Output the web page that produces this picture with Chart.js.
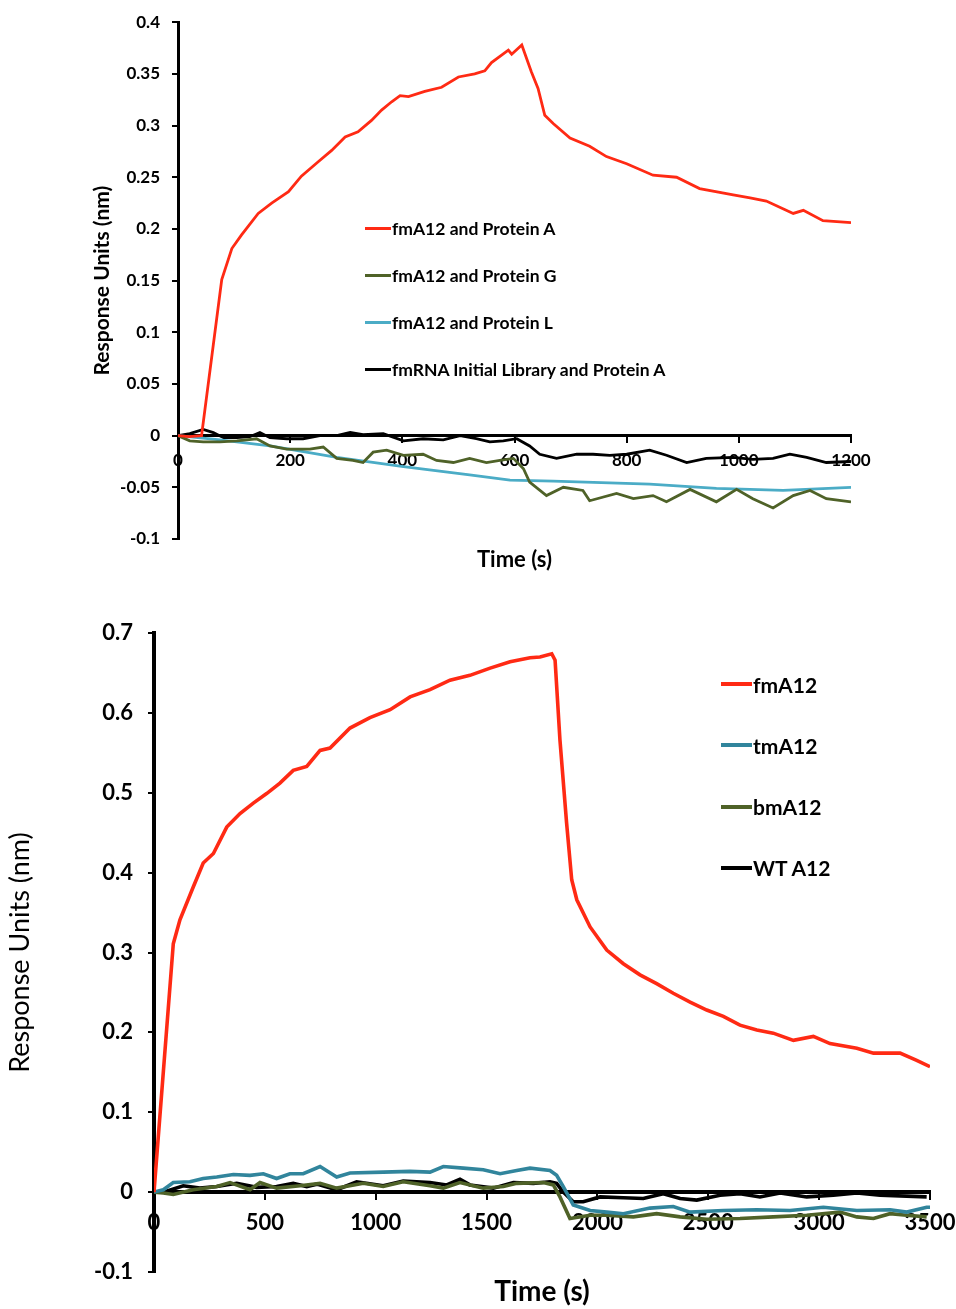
<!DOCTYPE html>
<html>
<head>
<meta charset="utf-8">
<script src="https://cdn.jsdelivr.net/npm/chart.js@4.4.1/dist/chart.umd.min.js"></script>
<style>
    body { margin: 0; background: #fff; width: 956px; height: 1309px; position: relative; overflow: hidden; font-family: Lato, sans-serif; }
    .box { position: absolute; left: 0; width: 956px; }
    #topBox { top: 0; height: 590px; }
    #botBox { top: 590px; height: 719px; }
    .legend { position: absolute; font-weight: bold; color: #000; }
    .legend .row { position: absolute; left: 0; white-space: nowrap; display: flex; align-items: center; }
</style>
</head>
<body>
<div class="box" id="topBox"><canvas id="topChart" width="956" height="590"></canvas></div>
<div class="box" id="botBox"><canvas id="botChart" width="956" height="719"></canvas></div>
<div class="legend" id="topLegend"></div>
<div class="legend" id="botLegend"></div>

<script>
// Upper panel: fmA12 against Protein A / G / L
const topLabels = ['fmA12 and Protein A', 'fmA12 and Protein G', 'fmA12 and Protein L', 'fmRNA Initial Library and Protein A'];
const topColors = ['#ff2a14', '#4f6228', '#4bacc6', '#000000'];

const protAT = [0, 20, 42, 78, 96, 113, 143, 167, 197, 220, 250, 274, 298, 321, 345, 363, 381, 396, 411, 440, 470, 500, 529, 547, 559, 589, 595, 613, 630, 642, 654, 669, 699, 734, 764, 800, 847, 889, 930, 990, 1020, 1049, 1097, 1115, 1150, 1200];
const protAV = [0, -0.001, 0, 0.151, 0.181, 0.194, 0.215, 0.225, 0.236, 0.251, 0.265, 0.276, 0.289, 0.294, 0.305, 0.315, 0.323, 0.329, 0.328, 0.333, 0.337, 0.347, 0.350, 0.353, 0.361, 0.373, 0.369, 0.378, 0.352, 0.336, 0.310, 0.302, 0.288, 0.280, 0.270, 0.263, 0.252, 0.250, 0.239, 0.233, 0.230, 0.227, 0.215, 0.218, 0.208, 0.206];

const protGT = [0, 21, 45, 75, 105, 140, 164, 194, 235, 259, 283, 312, 330, 348, 372, 402, 437, 461, 491, 520, 550, 574, 598, 616, 627, 657, 687, 722, 734, 782, 812, 847, 871, 913, 960, 996, 1025, 1061, 1097, 1127, 1156, 1200];
const protGV = [0, -0.005, -0.006, -0.006, -0.005, -0.003, -0.010, -0.013, -0.013, -0.011, -0.022, -0.024, -0.026, -0.016, -0.014, -0.019, -0.018, -0.024, -0.026, -0.022, -0.026, -0.024, -0.022, -0.032, -0.045, -0.058, -0.050, -0.053, -0.063, -0.056, -0.061, -0.058, -0.064, -0.052, -0.064, -0.052, -0.061, -0.070, -0.058, -0.053, -0.061, -0.064];

const protLT = [0, 75, 164, 283, 402, 520, 592, 669, 841, 960, 1079, 1200];
const protLV = [0, -0.004, -0.010, -0.021, -0.030, -0.038, -0.043, -0.044, -0.047, -0.051, -0.053, -0.050];

const libT = [0, 21, 45, 63, 81, 105, 128, 146, 164, 194, 223, 253, 283, 307, 330, 366, 402, 437, 473, 503, 532, 556, 580, 604, 627, 645, 675, 711, 740, 770, 800, 841, 871, 907, 942, 990, 1025, 1061, 1091, 1121, 1156, 1200];
const libV = [0, 0.002, 0.006, 0.003, -0.002, -0.002, -0.001, 0.003, -0.002, -0.003, -0.003, 0, 0, 0.003, 0.001, 0.002, -0.005, -0.003, -0.004, 0, -0.003, -0.006, -0.005, -0.003, -0.010, -0.018, -0.022, -0.018, -0.018, -0.019, -0.018, -0.014, -0.019, -0.026, -0.022, -0.021, -0.023, -0.022, -0.018, -0.021, -0.026, -0.025];

// Lower panel: fmA12 / tmA12 / bmA12 / WT A12
const botLabels = ['fmA12', 'tmA12', 'bmA12', 'WT A12'];
const botColors = ['#ff2a14', '#31859c', '#4f6228', '#000000'];

const fmT = [0, 87, 117, 177, 222, 268, 328, 388, 448, 508, 568, 628, 689, 749, 794, 884, 974, 1065, 1155, 1245, 1335, 1425, 1516, 1606, 1696, 1741, 1794, 1809, 1831, 1861, 1884, 1907, 1967, 2042, 2117, 2192, 2267, 2342, 2418, 2493, 2568, 2643, 2719, 2793, 2884, 2974, 3049, 3170, 3245, 3365, 3440, 3500];
const fmV = [0, 0.311, 0.341, 0.382, 0.412, 0.424, 0.457, 0.474, 0.487, 0.499, 0.512, 0.528, 0.533, 0.553, 0.556, 0.581, 0.594, 0.604, 0.620, 0.629, 0.641, 0.647, 0.656, 0.664, 0.669, 0.670, 0.674, 0.666, 0.566, 0.462, 0.391, 0.366, 0.332, 0.303, 0.286, 0.272, 0.261, 0.249, 0.238, 0.228, 0.220, 0.209, 0.203, 0.199, 0.190, 0.195, 0.186, 0.180, 0.174, 0.174, 0.165, 0.157];

const tmT = [0, 42, 87, 162, 222, 283, 358, 433, 493, 553, 613, 673, 749, 824, 884, 1034, 1155, 1245, 1305, 1395, 1485, 1561, 1636, 1696, 1786, 1816, 1846, 1891, 1967, 2042, 2117, 2237, 2342, 2418, 2568, 2719, 2869, 3019, 3170, 3320, 3395, 3485, 3500];
const tmV = [0, 0.003, 0.012, 0.013, 0.017, 0.019, 0.022, 0.021, 0.023, 0.017, 0.023, 0.023, 0.032, 0.019, 0.024, 0.025, 0.026, 0.025, 0.032, 0.030, 0.028, 0.023, 0.027, 0.030, 0.027, 0.021, 0.007, -0.016, -0.023, -0.025, -0.027, -0.020, -0.018, -0.025, -0.023, -0.022, -0.023, -0.019, -0.023, -0.022, -0.025, -0.019, -0.019];

const bmT = [0, 42, 87, 177, 283, 343, 433, 478, 553, 659, 749, 824, 944, 1034, 1124, 1245, 1305, 1380, 1485, 1576, 1636, 1756, 1801, 1831, 1876, 1967, 2042, 2162, 2267, 2373, 2493, 2643, 2793, 2944, 3094, 3170, 3245, 3320, 3395, 3485];
const bmV = [0, -0.001, -0.003, 0.003, 0.007, 0.012, 0.003, 0.012, 0.005, 0.008, 0.011, 0.005, 0.011, 0.007, 0.013, 0.008, 0.005, 0.012, 0.005, 0.007, 0.011, 0.012, 0.009, -0.006, -0.033, -0.029, -0.029, -0.031, -0.027, -0.031, -0.034, -0.033, -0.031, -0.029, -0.025, -0.031, -0.033, -0.027, -0.029, -0.031];

const wtT = [0, 42, 132, 207, 283, 373, 463, 553, 628, 689, 734, 824, 914, 1034, 1124, 1245, 1320, 1380, 1425, 1530, 1621, 1711, 1786, 1816, 1846, 1891, 1936, 2012, 2117, 2207, 2297, 2373, 2448, 2553, 2643, 2733, 2824, 2944, 3064, 3170, 3275, 3395, 3485];
const wtV = [0, 0, 0.008, 0.005, 0.007, 0.011, 0.006, 0.007, 0.011, 0.007, 0.010, 0.003, 0.013, 0.008, 0.014, 0.012, 0.009, 0.016, 0.009, 0.005, 0.012, 0.011, 0.013, 0.011, 0, -0.012, -0.012, -0.006, -0.007, -0.008, -0.002, -0.008, -0.010, -0.004, -0.002, -0.006, -0.001, -0.006, -0.004, -0.001, -0.004, -0.005, -0.006];

const topYTicks = { min: -0.1, max: 0.4, step: 0.05 };
const topXTicks = { min: 0, max: 1200, step: 200 };
const botYTicks = { min: -0.1, max: 0.7, step: 0.1 };
const botXTicks = { min: 0, max: 3500, step: 500 };

const FONT = 'Lato, "Open Sans", sans-serif';

function pts(t, v) { return t.map((x, i) => ({ x: x, y: v[i] })); }

function series(label, color, t, v, width) {
    return { label: label, data: pts(t, v), borderColor: color, backgroundColor: color, borderWidth: width, pointRadius: 0, tension: 0, xAxisID: 'x', yAxisID: 'y' };
}

function fmtNum(v) { return String(+(+v).toFixed(2)); }

// builds the axes; sizes are the pixel layout of the panel
function scalesFor(xr, yr, s) {
    return {
        x: {
            type: 'linear', position: { y: 0 }, min: xr.min, max: xr.max,
            border: { display: true, color: '#000', width: s.axisW },
            grid: { drawOnChartArea: false, drawTicks: true, tickLength: 6, color: '#000', lineWidth: 2 },
            ticks: { stepSize: xr.step, color: '#000', padding: s.xPad, maxRotation: 0, font: { family: FONT, size: s.tick, weight: 'bold' }, callback: fmtNum },
            // end labels may hang past the plot edge, as in the original
            afterFit: sc => { sc.paddingLeft = 0; sc.paddingRight = 0; }
        },
        x2: {
            type: 'linear', position: 'bottom',
            border: { display: false }, grid: { display: false, drawTicks: false },
            ticks: { display: false },
            title: { display: true, text: 'Time (s)', color: '#000', padding: { top: s.xTitlePad, bottom: 0 }, font: { family: FONT, size: s.xTitle, weight: 'bold' } },
            afterFit: sc => { sc.height = s.xBoxH; }
        },
        y: {
            type: 'linear', position: 'left', min: yr.min, max: yr.max,
            border: { display: true, color: '#000', width: s.axisW },
            grid: { drawOnChartArea: false, drawTicks: true, tickLength: 6, color: '#000', lineWidth: 2 },
            ticks: { stepSize: yr.step, color: '#000', padding: s.yPad, font: { family: FONT, size: s.tick, weight: 'bold' }, callback: fmtNum },
            title: { display: true, text: 'Response Units (nm)', color: '#000', padding: 4, font: { family: FONT, size: s.yTitle, weight: s.yTitleW } },
            afterFit: sc => { sc.width = s.yBoxW; }
        }
    };
}

new Chart(document.getElementById('topChart'), {
    type: 'line',
    data: {
        datasets: [
            series(topLabels[0], topColors[0], protAT, protAV, 2.8),
            series(topLabels[1], topColors[1], protGT, protGV, 2.8),
            series(topLabels[2], topColors[2], protLT, protLV, 2.8),
            series(topLabels[3], topColors[3], libT, libV, 2.8)
        ]
    },
    options: {
        responsive: false, animation: false,
        layout: { padding: { left: 86, right: 105, top: 20, bottom: 17 } },
        plugins: { legend: { display: false }, tooltip: { enabled: false } },
        scales: scalesFor(topXTicks, topYTicks, { axisW: 3, tick: 17, xPad: 9, yPad: 12, xTitle: 22, xTitlePad: 4, xBoxH: 34, yTitle: 21, yTitleW: 'bold', yBoxW: 92 })
    }
});

new Chart(document.getElementById('botChart'), {
    type: 'line',
    data: {
        datasets: [
            series(botLabels[0], botColors[0], fmT, fmV, 3.6),
            series(botLabels[1], botColors[1], tmT, tmV, 3.6),
            series(botLabels[2], botColors[2], bmT, bmV, 3.6),
            series(botLabels[3], botColors[3], wtT, wtV, 3.6)
        ]
    },
    options: {
        responsive: false, animation: false,
        layout: { padding: { left: 0, right: 26, top: 43, bottom: 0 } },
        plugins: { legend: { display: false }, tooltip: { enabled: false } },
        scales: scalesFor(botXTicks, botYTicks, { axisW: 4, tick: 22, xPad: 12, yPad: 15, xTitle: 28, xTitlePad: 0, xBoxH: 37, yTitle: 27, yTitleW: 'normal', yBoxW: 154 })
    }
});

// legends sit inside the plot areas like in the original figure
function buildLegend(id, labels, colors, o) {
    const el = document.getElementById(id);
    el.style.left = o.left + 'px';
    el.style.top = o.top + 'px';
    el.style.fontSize = o.font + 'px';
    labels.forEach((lab, i) => {
        const row = document.createElement('div');
        row.className = 'row';
        row.style.top = (i * o.gap) + 'px';
        row.style.height = o.rowH + 'px';
        const sw = document.createElement('span');
        sw.style.cssText = 'display:inline-block;width:' + o.swW + 'px;height:' + o.swH + 'px;background:' + colors[i] + ';margin-right:1px';
        const tx = document.createElement('span');
        tx.textContent = lab;
        row.appendChild(sw);
        row.appendChild(tx);
        el.appendChild(row);
    });
}

buildLegend('topLegend', topLabels, topColors, { left: 365, top: 217, gap: 47, rowH: 22, font: 17.5, swW: 26, swH: 3 });
buildLegend('botLegend', botLabels, botColors, { left: 721, top: 672, gap: 61.3, rowH: 24, font: 21, swW: 31, swH: 4 });
</script>
</body>
</html>
